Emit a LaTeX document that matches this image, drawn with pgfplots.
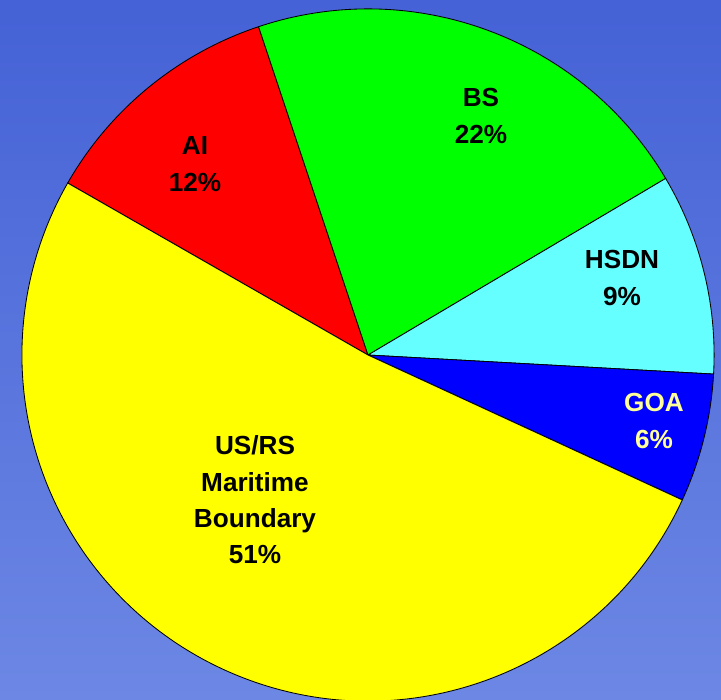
\documentclass[border=0pt]{standalone}
\usepackage{pgfplots}
\pgfplotsset{compat=1.18}
\usepackage{fontspec}
\setmainfont{Liberation Sans}

\definecolor{bgtop}{RGB}{69,98,214}
\definecolor{bgbot}{RGB}{108,135,228}
\definecolor{slAI}{RGB}{255,0,0}
\definecolor{slBS}{RGB}{0,255,0}
\definecolor{slHSDN}{RGB}{102,255,255}
\definecolor{slGOA}{RGB}{0,0,255}
\definecolor{slUS}{RGB}{255,255,0}
\definecolor{goatext}{RGB}{255,255,153}

% slice shares in percent, clockwise from the yellow/AI edge
\def\vAI{11.6}
\def\vBS{21.6}
\def\vHSDN{9.4}
\def\vGOA{6.0}
\def\vUS{51.4}

\pgfmathsetmacro\aA{150.2}
\pgfmathsetmacro\aB{\aA-3.6*\vAI}
\pgfmathsetmacro\aC{\aB-3.6*\vBS}
\pgfmathsetmacro\aD{\aC-3.6*\vHSDN}
\pgfmathsetmacro\aE{\aD-3.6*\vGOA}
\pgfmathsetmacro\aF{\aE-3.6*\vUS}
\def\R{8.65cm}

\tikzset{lab/.style={font={\fontsize{18.6}{25.8}\selectfont\bfseries}, align=center, inner sep=0pt}}

\begin{document}
\begin{tikzpicture}
\begin{axis}[
  x=0.025cm, y=0.025cm,
  xmin=0, xmax=721, ymin=0, ymax=699,
  y dir=reverse,
  hide axis,
  clip=true,
]
\shade[top color=bgtop, bottom color=bgbot] (axis cs:0,0) rectangle (axis cs:721,699);

\filldraw[fill=slAI, draw=black, line width=0.6pt] (axis cs:368,355) -- ++(\aA:\R) arc[start angle=\aA, end angle=\aB, radius=\R] -- cycle;
\filldraw[fill=slBS, draw=black, line width=0.6pt] (axis cs:368,355) -- ++(\aB:\R) arc[start angle=\aB, end angle=\aC, radius=\R] -- cycle;
\filldraw[fill=slHSDN, draw=black, line width=0.6pt] (axis cs:368,355) -- ++(\aC:\R) arc[start angle=\aC, end angle=\aD, radius=\R] -- cycle;
\filldraw[fill=slGOA, draw=black, line width=0.6pt] (axis cs:368,355) -- ++(\aD:\R) arc[start angle=\aD, end angle=\aE, radius=\R] -- cycle;
\filldraw[fill=slUS, draw=black, line width=0.6pt] (axis cs:368,355) -- ++(\aE:\R) arc[start angle=\aE, end angle=\aF, radius=\R] -- cycle;

\node[lab] at (axis cs:195,164) {AI\\12\%};
\node[lab] at (axis cs:481,116) {BS\\22\%};
\node[lab] at (axis cs:622,278) {HSDN\\9\%};
\node[lab, text=goatext] at (axis cs:654,421) {GOA\\6\%};
\node[lab] at (axis cs:255,500) {US/RS\\Maritime\\Boundary\\51\%};
\end{axis}
\end{tikzpicture}
\end{document}
